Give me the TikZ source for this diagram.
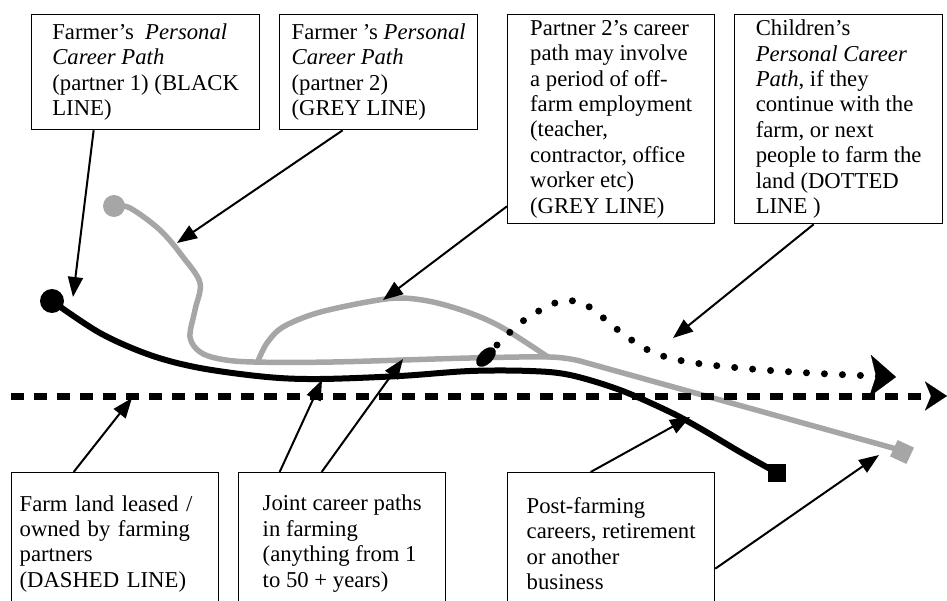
\documentclass[tikz,border=0pt]{standalone}
\usepackage{fontspec}
\setmainfont{Liberation Serif}
\usetikzlibrary{arrows.meta}

\definecolor{pathgrey}{RGB}{166,166,166}
\tikzset{
    labelbox/.style={draw, line width=1.3pt, anchor=north west, align=left, inner sep=0pt,
        font=\fontsize{22.7}{25.4}\selectfont},
    pointer/.style={line width=2pt, -{Triangle[length=20pt,width=15pt]}},
    blackpath/.style={line width=6pt, line cap=round, line join=round},
    greypath/.style={pathgrey, line width=5.5pt, line cap=round, line join=round}
}

\begin{document}
\begin{tikzpicture}[x=1pt,y=-1pt]
    \useasboundingbox (0,0) rectangle (947,601);
    \clip (0,0) rectangle (947,601);

    \draw [blackpath] plot [smooth, tension=0.55] coordinates {(52,301) (100,333) (150,355) (200,368)
        (267,377) (320,379) (400,376) (470,371) (530,371) (570,375) (620,390) (670,412) (703,430)
        (740,452) (772,470)};
    \draw [greypath] plot [smooth, tension=0.55] coordinates {(114,206) (130,208) (160,230) (183,257)
        (200,283) (195,310) (190,337) (200,352) (220,359) (253,362) (333,362) (470,358) (550,357)
        (580,361)} -- (900,450);
    \draw [greypath] plot [smooth, tension=0.55] coordinates {(258,361) (267,343) (283,327) (317,313)
        (367,302) (400,298) (433,302) (470,313) (503,328) (548,357)};
    \draw [line width=7pt, dash pattern=on 13pt off 10pt,
        -{Stealth[length=22pt,width=29pt,inset=6pt,line width=0.1pt]}] (11,396) -- (947,396);
    \draw [line width=7pt, line cap=round, dash pattern=on 0pt off 18pt,
        -{Stealth[length=26pt,width=42pt,inset=6pt,line width=0.1pt]}]
        plot [smooth, tension=0.6] coordinates {(497,345) (523,321) (555,303) (574,301) (591,308)
        (618,330) (648,350) (683,361) (740,368) (810,373) (896,377)};

    \fill (52,301) circle [radius=12pt];
    \fill [pathgrey] (114,206) circle [radius=11pt];
    \fill (768,464) rectangle (786,482);
    \fill [pathgrey, rotate around={-25:(902,452)}] (893,443) rectangle (911,461);
    \fill [rotate around={45:(486,357)}] (486,357) ellipse [x radius=12pt, y radius=7pt];

    \node [labelbox, minimum width=228pt, minimum height=115pt] (fpone) at (31,14)
        {Farmer's \ \textit{Personal}\\ \textit{Career Path}\\ (partner 1) (BLACK\\ LINE)};
    \node [labelbox, minimum width=198pt, minimum height=115pt] (fptwo) at (279,14)
        {Farmer 's \textit{Personal}\\ \textit{Career Path}\\ (partner 2)\\ (GREY LINE)};
    \node [labelbox, minimum width=207pt, minimum height=209pt] (offfarm) at (507,14)
        {Partner 2's career\\ path may involve\\ a period of off-\\ farm employment\\ (teacher,\\
        contractor, office\\ worker etc)\\ (GREY LINE)};
    \node [labelbox, minimum width=208pt, minimum height=209pt] (children) at (734,14)
        {Children's\\ \textit{Personal Career}\\ \textit{Path}, if they\\ continue with the\\
        farm, or next\\ people to farm the\\ land (DOTTED\\ LINE )};
    \node [labelbox, minimum width=207pt, minimum height=142pt, text width=191pt] (land) at (11,472)
        {Farm land leased /\\ owned by farming\\ partners\\ (DASHED LINE)};
    \node [labelbox, minimum width=207pt, minimum height=142pt] (joint) at (238,472)
        {Joint career paths\\ in farming\\ (anything from 1\\ to 50 + years)};
    \node [labelbox, minimum width=207pt, minimum height=142pt] (post) at (507,472)
        {Post-farming\\ careers, retirement\\ or another\\ business};

    \coordinate (blackstart) at (73,297);
    \coordinate (greybend) at (177,243);
    \coordinate (greyhump) at (383,300);
    \coordinate (dottedpath) at (673,338);
    \coordinate (landline) at (132,398);
    \coordinate (blackjoint) at (322,380);
    \coordinate (greyjoint) at (403,359);
    \coordinate (blackexit) at (690,417);
    \coordinate (greyend) at (879,455);

    \draw [pointer] ([xshift=-52pt]fpone.south) -- (blackstart);
    \draw [pointer] ([xshift=-36pt]fptwo.south) -- (greybend);
    \draw [pointer] ([yshift=18pt]offfarm.south west) -- (greyhump);
    \draw [pointer] ([xshift=-25pt]children.south) -- (dottedpath);
    \draw [pointer] ([xshift=-41.5pt]land.north) -- (landline);
    \draw [pointer] ([xshift=-62.5pt]joint.north) -- (blackjoint);
    \draw [pointer] ([xshift=-20.5pt]joint.north) -- (greyjoint);
    \draw [pointer] ([xshift=-20.5pt]post.north) -- (blackexit);
    \draw [pointer] ([yshift=-25pt]post.east) -- (greyend);
\end{tikzpicture}
\end{document}
